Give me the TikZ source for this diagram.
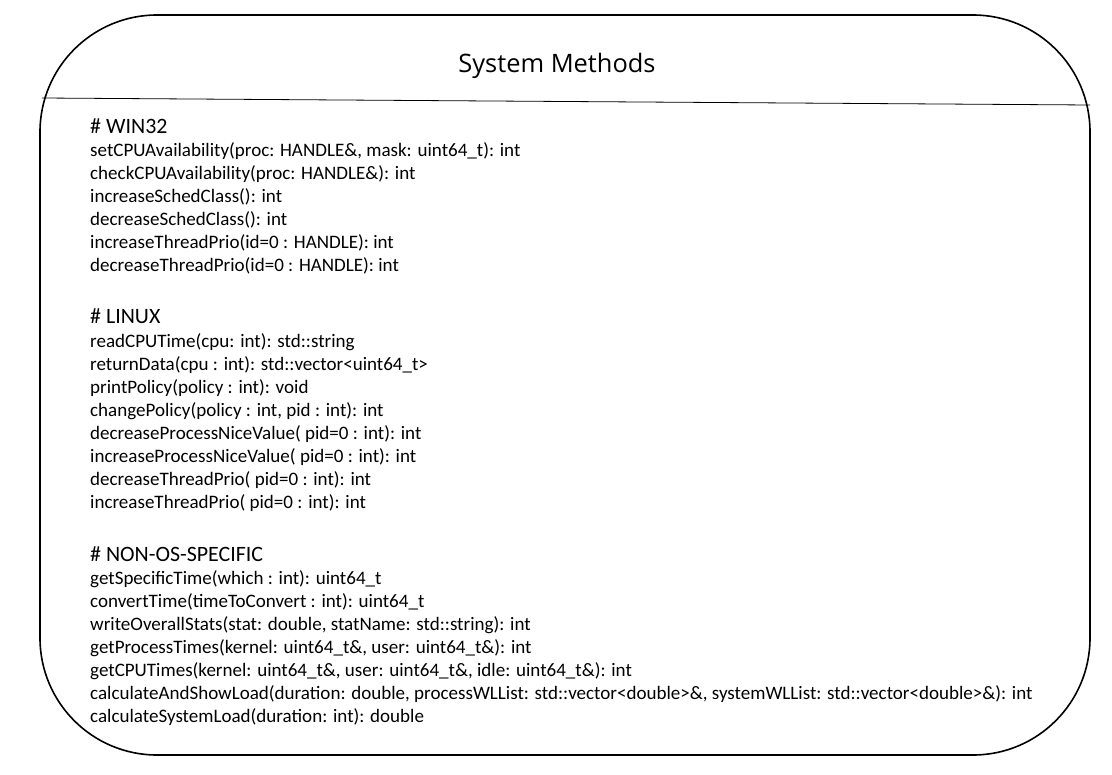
\documentclass[tikz,border=0pt]{standalone}
\usepackage{fontspec}
\setmainfont{Carlito}
\newfontfamily\titlefont{Open Sans}

\begin{document}
\begin{tikzpicture}[x=1bp, y=-1bp,
    method/.style={anchor=base west, inner sep=0pt, font=\fontsize{19.1}{23}\selectfont},
    group/.style={anchor=base west, inner sep=0pt, font=\fontsize{22}{26}\selectfont}]
   \useasboundingbox (0,0) rectangle (1112,775);
   % class box
   \draw[line width=1.6bp, rounded corners=117bp] (40,15) rectangle (1090,755);
   \draw[line width=0.8bp] (42,98) -- (1090,105);
   \node[anchor=base, inner sep=0pt, font=\titlefont\fontsize{25.5}{30}\selectfont] (title) at (557,73) {System Methods};

   % WIN32
   \node[group] (win) at (90,133) {\# WIN32};
   \foreach \txt [count=\i] in {
       {setCPUAvailability(proc: HANDLE\&, mask: uint64\_t): int},
       {checkCPUAvailability(proc: HANDLE\&): int},
       {increaseSchedClass(): int},
       {decreaseSchedClass(): int},
       {increaseThreadPrio(id=0 : HANDLE): int},
       {decreaseThreadPrio(id=0 : HANDLE): int}}
     \node[method] (win\i) at (90,{156+23*(\i-1)}) {\txt};

   % LINUX
   \node[group] (linux) at (90,323) {\# LINUX};
   \foreach \txt [count=\i] in {
       {readCPUTime(cpu: int): std::string},
       {returnData(cpu : int): std::vector<uint64\_t>},
       {printPolicy(policy : int): void},
       {changePolicy(policy : int, pid : int): int},
       {decreaseProcessNiceValue( pid=0 : int): int},
       {increaseProcessNiceValue( pid=0 : int): int},
       {decreaseThreadPrio( pid=0 : int): int},
       {increaseThreadPrio( pid=0 : int): int}}
     \node[method] (linux\i) at (90,{347+23*(\i-1)}) {\txt};

   % NON-OS-SPECIFIC
   \node[group] (common) at (90,561) {\# NON-OS-SPECIFIC};
   \foreach \txt [count=\i] in {
       {getSpecificTime(which : int): uint64\_t},
       {convertTime(timeToConvert : int): uint64\_t},
       {writeOverallStats(stat: double, statName: std::string): int},
       {getProcessTimes(kernel: uint64\_t\&, user: uint64\_t\&): int},
       {getCPUTimes(kernel: uint64\_t\&, user: uint64\_t\&, idle: uint64\_t\&): int},
       {calculateAndShowLoad(duration: double, processWLList: std::vector<double>\&, systemWLList: std::vector<double>\&): int},
       {calculateSystemLoad(duration: int): double}}
     \node[method] (common\i) at (90,{584+23*(\i-1)}) {\txt};
\end{tikzpicture}
\end{document}
